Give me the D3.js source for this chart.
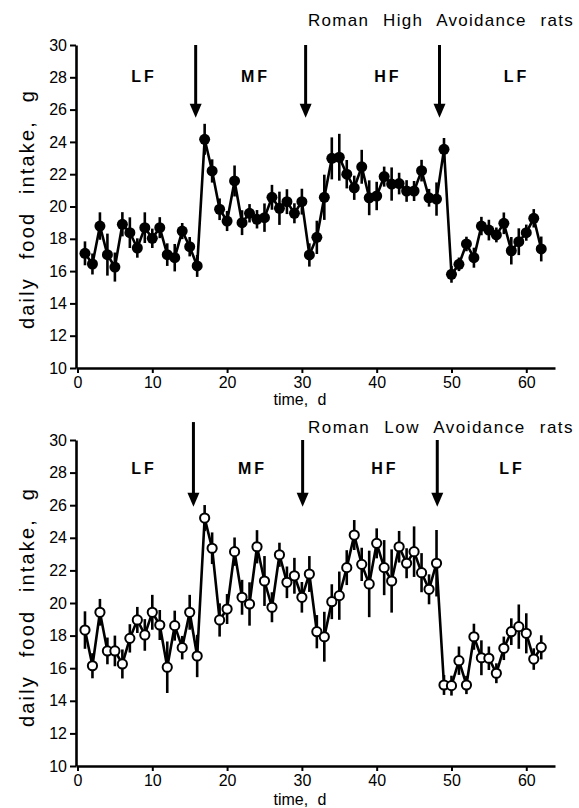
<!DOCTYPE html>
<html><head><meta charset="utf-8">
<script src="https://cdn.jsdelivr.net/npm/d3@7"></script>
<style>body{margin:0;background:#fff}svg{display:block}</style>
</head><body>
<svg id="chart" width="579" height="808"></svg>
<script>
const days = [1,2,3,4,5,6,7,8,9,10,11,12,13,14,15,16,17,18,19,20,21,22,23,24,25,26,27,28,29,30,31,32,33,34,35,36,37,38,39,40,41,42,43,44,45,46,47,48,49,50,51,52,53,54,55,56,57,58,59,60,61,62];
const rhaMean = [17.10,16.44,18.79,17.02,16.25,18.90,18.38,17.43,18.69,18.03,
  18.69,17.02,16.83,18.48,17.51,16.32,24.16,22.20,19.83,19.10,
  21.58,19.00,19.58,19.21,19.31,20.57,19.89,20.30,19.58,20.30,
  17.00,18.09,20.57,22.98,23.05,22.00,21.16,22.46,20.54,20.65,
  21.85,21.39,21.42,20.96,20.96,22.22,20.54,20.46,23.54,15.80,
  16.42,17.68,16.83,18.79,18.54,18.24,18.96,17.26,17.82,18.38,
  19.27,17.37];
const rhaSem = [0.74,0.65,0.85,1.3,0.9,0.75,0.95,0.6,0.95,0.6,
  0.65,0.7,0.85,0.5,0.6,0.68,0.96,0.72,0.67,0.62,
  0.96,0.77,0.57,0.57,0.88,0.77,1.03,0.77,0.62,0.8,
  0.72,1.03,1.4,1.3,1.45,0.88,0.75,1.05,1.08,0.88,
  0.62,1.03,0.67,0.67,0.62,0.67,0.55,1.03,0.7,0.52,
  0.42,0.45,0.62,0.57,0.64,0.46,0.67,0.85,0.83,0.5,
  0.57,0.77];
const rlaMean = [18.34,16.15,19.43,17.06,17.06,16.26,17.83,18.96,18.04,19.43,
  18.65,16.06,18.61,17.26,19.43,16.75,25.21,23.36,18.96,19.63,
  23.15,20.35,19.94,23.45,21.35,19.74,22.96,21.27,21.67,20.35,
  21.78,18.24,17.93,20.08,20.45,22.17,24.17,22.37,21.17,23.66,
  22.17,21.35,23.45,22.44,23.15,21.86,20.84,22.44,14.97,14.93,
  16.46,14.97,17.93,16.64,16.61,15.69,17.22,18.24,18.55,18.14,
  16.56,17.28];
const rlaSem = [1.15,0.77,0.82,0.82,0.94,0.89,0.87,0.8,0.97,1.07,
  0.92,1.58,0.92,0.72,1.07,1.3,0.8,0.97,1.02,0.92,
  0.87,1.07,1.33,1.02,1.53,0.92,0.74,0.97,1.1,0.94,
  1.1,1.02,1.53,1.07,1.48,1.07,0.92,1.02,2.04,0.92,
  1.69,1.94,0.97,0.92,1.55,1.2,0.92,2.04,0.61,0.61,
  0.87,0.56,0.8,1.07,0.72,0.61,0.72,0.82,1.36,1.23,
  0.66,0.74];
const xTicks = [0,10,20,30,40,50,60];
const yTicks = [10,12,14,16,18,20,22,24,26,28,30];
const phaseLabels = ["LF","MF","HF","LF"];
const rhaPhaseDays = [8.9,23.8,41.5,58.7];
const rlaPhaseDays = [8.9,23.4,41.1,58.1];
const rhaArrowDays = [15.8,30.5,48.4];
const rlaArrowDays = [15.5,30.1,48.1];
const rhaArrowFrom = [30,30,30];
const rlaArrowFrom = [31.1,30,30];
const titles = ["Roman High Avoidance rats","Roman Low Avoidance rats"];
const xLabel = "time, d";
const yLabel = "daily food intake, g";

const svg = d3.select("#chart");
const FONT = "Liberation Sans, Arial, Helvetica, sans-serif";

// give a text a set word gap, then spread letters so it reaches a target length
function fitText(sel, target, wordGap) {
  const node = sel.node();
  const natural = node.getComputedTextLength();
  const txt = node.textContent;
  const gaps = (txt.match(/ /g) || []).length;
  const ls = Math.max(0, (target - natural - gaps * wordGap) / txt.length);
  sel.style("word-spacing", wordGap + "px").style("letter-spacing", ls + "px");
}

const panels = [
  {title: titles[0], mean: rhaMean, sem: rhaSem, filled: true, yr: [368,45], phase: rhaPhaseDays, arrows: rhaArrowDays, arrowFrom: rhaArrowFrom, arrowTo: 25.5, titleY: 26, phaseY: 82, xlabY: 405, ylabY: 209},
  {title: titles[1], mean: rlaMean, sem: rlaSem, filled: false, yr: [766,440], phase: rlaPhaseDays, arrows: rlaArrowDays, arrowFrom: rlaArrowFrom, arrowTo: 25.9, titleY: 433, phaseY: 474, xlabY: 805, ylabY: 607}
];

panels.forEach(p => {
  const x = d3.scaleLinear().domain([-0.2, 63.84]).range([76, 555]);
  const y = d3.scaleLinear().domain([10, 30]).range(p.yr);
  const g = svg.append("g");

  // axes
  const ya = g.append("g").attr("transform", `translate(76,0)`)
    .call(d3.axisLeft(y).tickValues(yTicks).tickSize(6).tickSizeOuter(0).tickPadding(3));
  const xa = g.append("g").attr("transform", `translate(0,${p.yr[0]})`)
    .call(d3.axisBottom(x).tickValues(xTicks).tickSize(5).tickSizeOuter(0).tickPadding(4));
  [ya, xa].forEach(a => {
    a.select(".domain").attr("stroke", "#000").attr("stroke-width", 2.6);
    a.selectAll(".tick line").attr("stroke", "#000").attr("stroke-width", 2);
    a.selectAll(".tick text").attr("fill", "#000").style("font-family", FONT).style("font-size", "16px");
  });

  // title
  const t = g.append("text").attr("x", 574).attr("y", p.titleY).attr("text-anchor", "end")
    .style("font-family", FONT).style("font-size", "17px").text(p.title);
  fitText(t, 266, 8);

  // axis labels
  g.append("text").attr("x", 300).attr("y", p.xlabY).attr("text-anchor", "middle")
    .style("font-family", FONT).style("font-size", "16px").style("word-spacing", "5px").text(xLabel);
  const yl = g.append("text").attr("transform", `translate(34,${p.ylabY}) rotate(-90)`).attr("text-anchor", "middle")
    .style("font-family", FONT).style("font-size", "20px").text(yLabel);
  fitText(yl, 240, 10);

  // phase labels
  g.selectAll(".ph").data(phaseLabels).join("text")
    .attr("x", (d, i) => x(p.phase[i])).attr("y", p.phaseY).attr("text-anchor", "middle")
    .style("font-family", FONT).style("font-size", "16px").style("font-weight", "bold")
    .style("letter-spacing", "3px").text(d => d);

  // arrows
  p.arrows.forEach((ad, i) => {
    const ax = x(ad), y0 = y(p.arrowFrom[i]), y1 = y(p.arrowTo);
    g.append("line").attr("x1", ax).attr("x2", ax).attr("y1", y0).attr("y2", y1 - 10)
      .attr("stroke", "#000").attr("stroke-width", 3);
    g.append("path").attr("d", `M${ax - 6},${y1 - 14}L${ax + 6},${y1 - 14}L${ax},${y1}Z`).attr("fill", "#000");
  });

  const pts = days.map((d, i) => ({d, m: p.mean[i], s: p.sem[i]}));
  // error bars
  g.selectAll(".eb").data(pts).join("line")
    .attr("x1", d => x(d.d)).attr("x2", d => x(d.d))
    .attr("y1", d => y(d.m - d.s)).attr("y2", d => y(d.m + d.s))
    .attr("stroke", "#000").attr("stroke-width", 2.6);
  // line
  g.append("path").datum(pts)
    .attr("d", d3.line().x(d => x(d.d)).y(d => y(d.m)))
    .attr("fill", "none").attr("stroke", "#000").attr("stroke-width", 2.6);
  // markers
  g.selectAll(".mk").data(pts).join("circle")
    .attr("cx", d => x(d.d)).attr("cy", d => y(d.m))
    .attr("r", p.filled ? 5.5 : 4.6)
    .attr("fill", p.filled ? "#000" : "#fff")
    .attr("stroke", "#000").attr("stroke-width", p.filled ? 0 : 2);
});
</script>
</body></html>
